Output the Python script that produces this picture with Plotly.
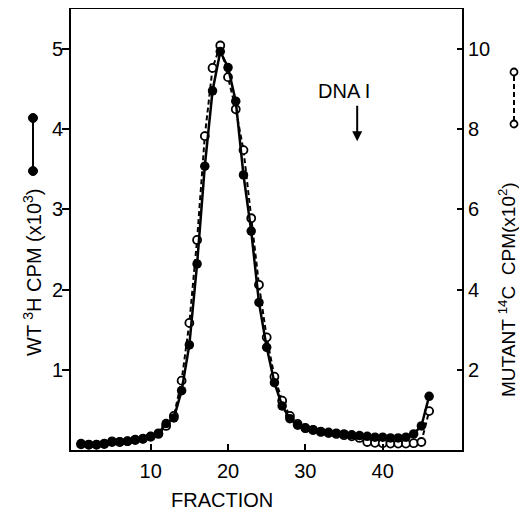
import plotly.graph_objects as go

fraction = list(range(1, 47))
wt_3h = [0.08, 0.07, 0.07, 0.08, 0.11, 0.10, 0.11, 0.13, 0.14, 0.17,
         0.21, 0.33, 0.40, 0.74, 1.31, 2.32, 3.54, 4.48, 4.97, 4.77,
         4.35, 3.43, 2.73, 1.84, 1.28, 0.84, 0.55, 0.39, 0.31, 0.27,
         0.25, 0.23, 0.22, 0.21, 0.20, 0.19, 0.18, 0.17, 0.16, 0.16,
         0.15, 0.15, 0.16, 0.20, 0.30, 0.67]
mutant_14c = [0.14, 0.13, 0.13, 0.15, 0.20, 0.20, 0.22, 0.25, 0.28, 0.33,
              0.40, 0.60, 0.85, 1.73, 3.17, 5.24, 7.83, 9.53, 10.09, 9.30,
              8.50, 7.48, 5.78, 4.12, 2.81, 1.83, 1.23, 0.85, 0.65, 0.55,
              0.50, 0.45, 0.42, 0.40, 0.37, 0.34, 0.30, 0.20, 0.18, 0.17,
              0.16, 0.16, 0.16, 0.17, 0.20, 0.97]
x_ticks = [10, 20, 30, 40]
left_ticks = [1, 2, 3, 4, 5]
right_ticks = [2, 4, 6, 8, 10]

FONT = "Liberation Sans"
fig = go.Figure()
# mutant (open circles) on the right-hand axis
fig.add_trace(go.Scatter(
    x=fraction, y=mutant_14c, mode="lines+markers",
    line=dict(color="black", width=2, dash="5px,3px"),
    marker=dict(color="white", size=8, line=dict(color="black", width=1.8)),
    showlegend=False, yaxis="y2"))
# wild type (filled circles) on a hidden copy of the left axis, drawn on top
fig.add_trace(go.Scatter(
    x=fraction, y=wt_3h, mode="lines+markers",
    line=dict(color="black", width=2.5),
    marker=dict(color="black", size=9.5),
    showlegend=False, yaxis="y3"))

# page body has an 8px margin: work in viewport pixels, offset by 8
OFF = 8
W, H = 527 - OFF, 512 - OFF
PL, PR, PT, PB = 71, 462, 9, 450          # plot frame in viewport pixels
ml, mr, mt, mb = PL - OFF, (W + OFF) - PR, PT - OFF, (H + OFF) - PB
pw, ph = PR - PL, PB - PT

def px(xp):
    return (xp - PL) / pw

def py(yp):
    return (PB - yp) / ph

annotations = [
    dict(text="WT <sup>3</sup>H CPM (x10<sup>3</sup>)", x=px(32), y=py(273),
         xref="paper", yref="paper", xanchor="center", yanchor="middle",
         showarrow=False, textangle=-90,
         font=dict(size=20, color="black", family=FONT)),
    dict(text="MUTANT <sup>14</sup>C  CPM(x10<sup>2</sup>)", x=px(507), y=py(290),
         xref="paper", yref="paper", xanchor="center", yanchor="middle",
         showarrow=False, textangle=-90,
         font=dict(size=19, color="black", family=FONT)),
    dict(text="FRACTION", x=px(222), y=py(500), xref="paper", yref="paper",
         xanchor="center", yanchor="middle", showarrow=False,
         font=dict(size=20, color="black", family=FONT)),
    dict(text="DNA I", x=35.0, y=4.48, xref="x", yref="y", showarrow=False,
         xanchor="center", yanchor="middle",
         font=dict(size=20, color="black", family=FONT)),
    dict(text="", x=36.7, y=3.85, xref="x", yref="y", showarrow=True,
         ax=0, ay=-37, arrowhead=2, arrowsize=1, arrowwidth=2, arrowcolor="black"),
]

shapes = []
# left legend glyph: filled circles with solid line
shapes.append(dict(type="line", xref="paper", yref="paper",
                   x0=px(33), x1=px(33), y0=py(118), y1=py(171),
                   line=dict(color="black", width=2)))
for yc in (118, 171):
    shapes.append(dict(type="circle", xref="paper", yref="paper",
                       xsizemode="pixel", ysizemode="pixel",
                       xanchor=px(33), yanchor=py(yc),
                       x0=-4.5, x1=4.5, y0=-4.5, y1=4.5,
                       fillcolor="black", line=dict(color="black", width=1)))
# right legend glyph: open circles with dashed line
shapes.append(dict(type="line", xref="paper", yref="paper",
                   x0=px(514), x1=px(514), y0=py(76), y1=py(120),
                   line=dict(color="black", width=2, dash="5px,3px")))
for yc in (72, 124):
    shapes.append(dict(type="circle", xref="paper", yref="paper",
                       xsizemode="pixel", ysizemode="pixel",
                       xanchor=px(514), yanchor=py(yc),
                       x0=-3.5, x1=3.5, y0=-3.5, y1=3.5,
                       fillcolor="white", line=dict(color="black", width=1.8)))

tickfont = dict(size=20, color="black", family=FONT)
fig.update_layout(
    width=W, height=H,
    margin=dict(l=ml, r=mr, t=mt, b=mb, autoexpand=False),
    paper_bgcolor="white", plot_bgcolor="white",
    annotations=annotations, shapes=shapes,
    xaxis=dict(range=[-0.3, 50.25], tickvals=x_ticks, ticks="inside", ticklen=6,
               tickwidth=1.5, tickcolor="black", showline=True, linewidth=2,
               linecolor="black", mirror=True, showgrid=False, zeroline=False,
               tickfont=tickfont, ticklabelstandoff=2),
    yaxis=dict(range=[0, 5.5], tickvals=left_ticks, ticks="outside", ticklen=7,
               tickwidth=1.5, tickcolor="black", showline=True, linewidth=2,
               linecolor="black", showgrid=False, zeroline=False,
               side="left", tickfont=tickfont, ticklabelstandoff=-5),
    yaxis2=dict(range=[0, 11], tickvals=right_ticks, ticks="inside", ticklen=5,
                tickwidth=1.5, tickcolor="black", showline=True, linewidth=2,
                linecolor="black", showgrid=False, zeroline=False,
                overlaying="y", side="right", anchor="x", tickfont=tickfont,
                ticklabelstandoff=0),
    yaxis3=dict(range=[0, 5.5], overlaying="y", side="left", anchor="x",
                visible=False, showgrid=False, zeroline=False),
)

fig.write_html("out.html")
